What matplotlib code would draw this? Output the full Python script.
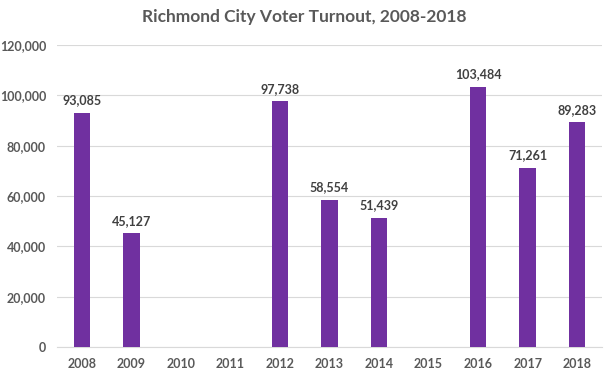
import numpy as np
import matplotlib
matplotlib.use('Agg')
import matplotlib.pyplot as plt

years = ['2008', '2009', '2010', '2011', '2012', '2013', '2014', '2015', '2016', '2017', '2018']
turnout = [93085, 45127, np.nan, np.nan, 97738, 58554, 51439, np.nan, 103484, 71261, 89283]
yticks = [0, 20000, 40000, 60000, 80000, 100000, 120000]

BAR = '#7030A0'
TEXT = '#595959'
LABEL = '#404040'
GRID = '#D9D9D9'

plt.rcParams['font.family'] = ['Lato', 'DejaVu Sans']

fig = plt.figure(figsize=(6.08, 3.78), dpi=100)
ax = fig.add_axes([0.094, 0.082, 0.896, 0.799])

x = np.arange(len(years))
vals = np.array(turnout, dtype=float)
bars = ax.bar(x, np.nan_to_num(vals), width=0.33, color=BAR, zorder=3)

for xi, v in zip(x, vals):
    if not np.isnan(v):
        ax.text(xi, v + 2500, f'{int(v):,}', ha='center', va='bottom',
                fontsize=9, fontweight='bold', color=LABEL)

ax.set_xlim(-0.5, len(years) - 0.5)
ax.set_ylim(0, 120000)
ax.set_yticks(yticks)
ax.set_yticklabels([f'{t:,}' for t in yticks])
ax.set_xticks(x)
ax.set_xticklabels(years)

for lab in ax.get_xticklabels() + ax.get_yticklabels():
    lab.set_fontweight('bold')
    lab.set_fontsize(9)
    lab.set_color(TEXT)

for s in ['top', 'right', 'left']:
    ax.spines[s].set_visible(False)
ax.spines['bottom'].set_color(GRID)
ax.tick_params(length=0, pad=8)
ax.grid(True, axis='y', color=GRID, linewidth=0.8, zorder=0)
ax.set_axisbelow(True)

fig.text(0.5, 0.955, 'Richmond City Voter Turnout, 2008-2018', ha='center', va='center',
         fontsize=12.5, fontweight='bold', color=TEXT)

fig.savefig('out.png', dpi=100)
